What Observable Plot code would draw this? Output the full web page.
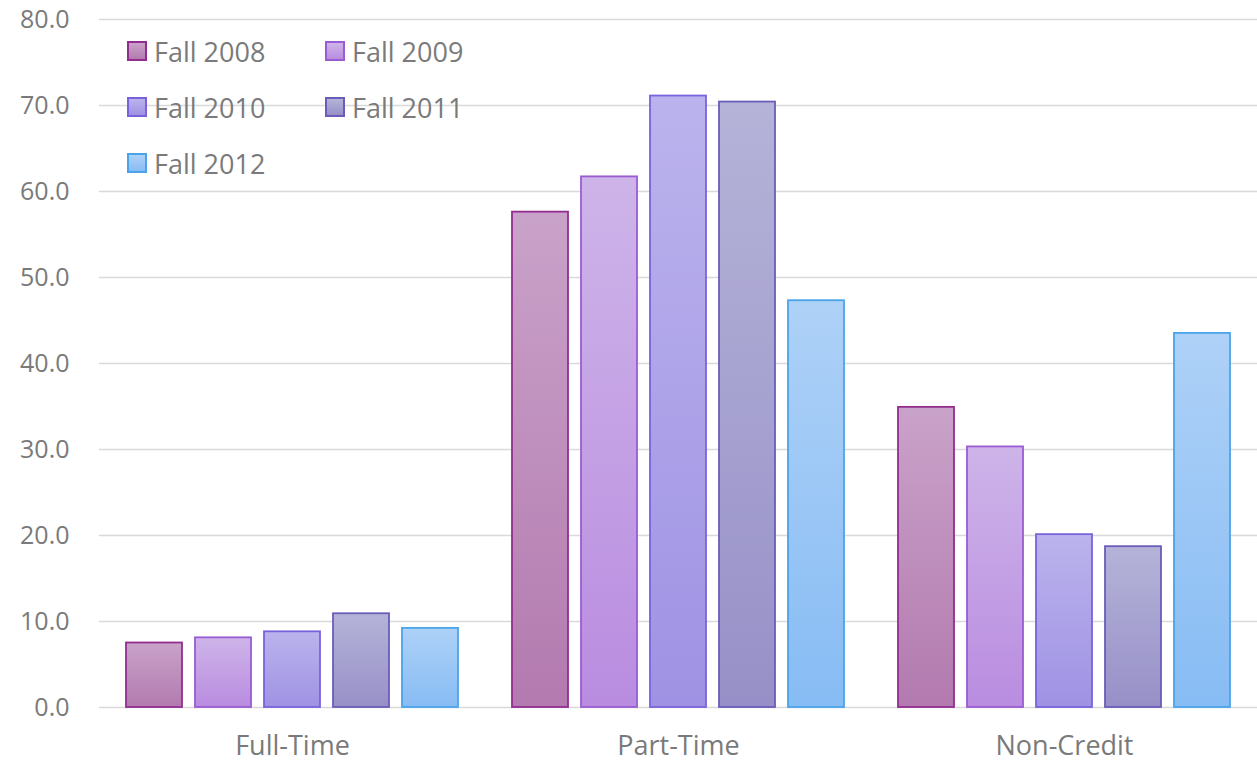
<!DOCTYPE html>
<html>
<head>
<meta charset="utf-8">
<script src="https://cdn.jsdelivr.net/npm/d3@7"></script>
<script src="https://cdn.jsdelivr.net/npm/@observablehq/plot@0.6"></script>
<style>
  html, body { margin: 0; padding: 0; background: #fff; }
  #wrap { position: relative; width: 1257px; height: 763px; font-family: "Open Sans", sans-serif; }
  #legend { position: absolute; left: 127px; top: 35px; display: grid; grid-template-columns: 198px 198px; grid-auto-rows: 56px; }
  .item { display: flex; align-items: center; height: 32px; color: #7a7a7a; font-size: 27px; }
  .sw { width: 16px; height: 16px; border: 2px solid; margin-right: 7px; box-sizing: content-box; }
</style>
</head>
<body>
<div id="wrap"><div id="legend"></div></div>
<script>
const categories = ["Full-Time", "Part-Time", "Non-Credit"];
const years = ["Fall 2008", "Fall 2009", "Fall 2010", "Fall 2011", "Fall 2012"];
const fall2008 = [7.5, 57.6, 34.9];
const fall2009 = [8.1, 61.7, 30.3];
const fall2010 = [8.8, 71.1, 20.1];
const fall2011 = [10.9, 70.4, 18.7];
const fall2012 = [9.2, 47.3, 43.5];
const yTicks = [0, 10, 20, 30, 40, 50, 60, 70, 80];

const seriesValues = [fall2008, fall2009, fall2010, fall2011, fall2012];
const strokeColors = ["#922d8e", "#9b5bd3", "#7a62dc", "#6a5db8", "#4ba3ea"];
const topColors = ["#c9a2c9", "#ceb4e9", "#bbb3ed", "#b5b3d8", "#aed1f7"];
const bottomColors = ["#b37aaf", "#b98ce0", "#9f92e4", "#9790c8", "#87bcf4"];

const data = [];
years.forEach((yr, i) => categories.forEach((c, j) => data.push({category: c, year: yr, idx: i, value: seriesValues[i][j]})));

const chart = Plot.plot({
  width: 1257,
  height: 763,
  marginLeft: 98,
  marginRight: 0,
  marginTop: 19,
  marginBottom: 56,
  style: {fontFamily: "'Open Sans', sans-serif", color: "#7a7a7a", background: "white"},
  fx: {domain: categories, padding: 0, label: null},
  x: {domain: years, paddingInner: 0.19, paddingOuter: 0.38, axis: null},
  y: {domain: [0, 80], label: null},
  color: {type: "identity"},
  marks: [
    Plot.gridY(yTicks, {stroke: "#d9d9d9", strokeOpacity: 1, strokeWidth: 1.6}),
    Plot.barY(data, {
      fx: "category", x: "year", y: "value",
      fill: d => `url(#grad${d.idx})`,
      stroke: d => strokeColors[d.idx],
      strokeWidth: 1.8
    }),
    Plot.axisY(yTicks, {tickSize: 0, tickPadding: 30, fontSize: 25, tickFormat: d => d.toFixed(1), label: null, fill: "#7a7a7a"}),
    Plot.axisFx({anchor: "bottom", tickSize: 0, tickPadding: 28, fontSize: 27, label: null, fill: "#7a7a7a"})
  ]
});

const defs = d3.select(chart).insert("defs", ":first-child");
years.forEach((y, i) => {
  const g = defs.append("linearGradient").attr("id", `grad${i}`).attr("x1", 0).attr("y1", 0).attr("x2", 0).attr("y2", 1);
  g.append("stop").attr("offset", "0%").attr("stop-color", topColors[i]);
  g.append("stop").attr("offset", "100%").attr("stop-color", bottomColors[i]);
});

document.getElementById("wrap").prepend(chart);

const legend = d3.select("#legend");
years.forEach((y, i) => {
  const it = legend.append("div").attr("class", "item");
  it.append("div").attr("class", "sw")
    .style("border-color", strokeColors[i])
    .style("background", `linear-gradient(${topColors[i]}, ${bottomColors[i]})`);
  it.append("span").text(y);
});
</script>
</body>
</html>
